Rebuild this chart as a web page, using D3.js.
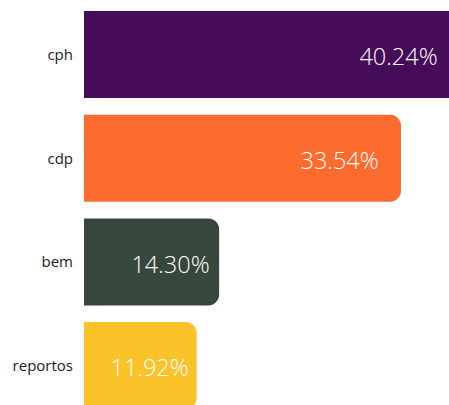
<!DOCTYPE html>
<html>
<head>
<meta charset="utf-8">
<script src="https://cdn.jsdelivr.net/npm/d3@7"></script>
<style>
  body { margin: 0; background: #fff; }
  svg { display: block; font-family: "Open Sans", sans-serif; }
</style>
</head>
<body>
<div id="chart"></div>
<script>
// data
const categories = ["cph", "cdp", "bem", "reportos"]
const values = [40.24, 33.54, 14.30, 11.92]
const colors = ["#460c5a", "#fe6b2e", "#37473c", "#fbc22a"]

const width = 449
const height = 405
const left = 84

const svg = d3.select("#chart")
  .append("svg")
    .attr("width", width)
    .attr("height", height)

// scales
const x = d3.scaleLinear()
  .domain([0, 10])
  .range([left, left + 94.5])

const y = d3.scaleBand()
  .domain(categories)
  .range([11 - 16.6 / 2, 11 + 4 * 103.7 - 16.6 / 2])
  .paddingInner(0.16)
  .paddingOuter(0.08)

// bar with rounded right end
function barPath(x0, x1, y0, h, r) {
  r = Math.min(r, (x1 - x0) / 2, h / 2)
  return `M${x0},${y0}H${x1 - r}A${r},${r} 0 0 1 ${x1},${y0 + r}`
    + `V${y0 + h - r}A${r},${r} 0 0 1 ${x1 - r},${y0 + h}H${x0}Z`
}

const rows = categories.map((c, i) => ({ cat: c, value: values[i], color: colors[i] }))

const g = svg.append("g")

g.selectAll("path.bar")
  .data(rows)
  .join("path")
    .attr("class", "bar")
    .attr("d", d => barPath(x(0), x(d.value), y(d.cat), y.bandwidth(), 11))
    .attr("fill", d => d.color)

// value labels inside bars
g.selectAll("text.value")
  .data(rows)
  .join("text")
    .attr("class", "value")
    .attr("x", d => x(0) + (x(d.value) - x(0)) * 0.93)
    .attr("y", d => y(d.cat) + y.bandwidth() / 2)
    .attr("dy", "0.45em")
    .attr("text-anchor", "end")
    .attr("fill", "#fff")
    .attr("font-size", 23.5)
    .attr("font-weight", 300)
    .text(d => d.value.toFixed(2) + "%")

// category labels
g.selectAll("text.cat")
  .data(rows)
  .join("text")
    .attr("class", "cat")
    .attr("x", left - 11)
    .attr("y", d => y(d.cat) + y.bandwidth() / 2)
    .attr("dy", "0.35em")
    .attr("text-anchor", "end")
    .attr("fill", "#222")
    .attr("font-size", 15)
    .text(d => d.cat)
</script>
</body>
</html>
